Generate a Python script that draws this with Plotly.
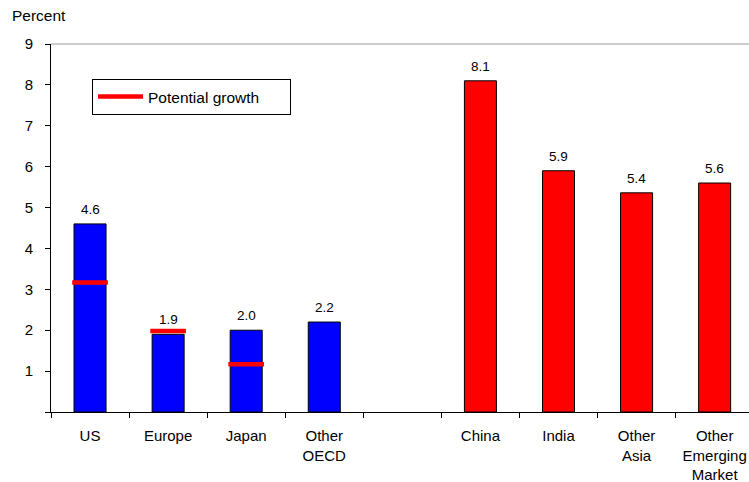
import plotly.graph_objects as go

categories = ["US", "Europe", "Japan", "Other<br>OECD", " ", "China", "India", "Other<br>Asia", "Other<br>Emerging<br>Market"]
growth = [4.6, 1.9, 2.0, 2.2, None, 8.1, 5.9, 5.36, 5.6]
growth_labels = ["4.6", "1.9", "2.0", "2.2", "", "8.1", "5.9", "5.4", "5.6"]
bar_colors = ["#0000FF", "#0000FF", "#0000FF", "#0000FF", "#0000FF", "#FF0000", "#FF0000", "#FF0000", "#FF0000"]
potential_cats = ["US", "Europe", "Japan"]
potential_vals = [3.17, 1.98, 1.17]
y_ticks = [0, 1, 2, 3, 4, 5, 6, 7, 8, 9]
y_ticktext = ["", "1", "2", "3", "4", "5", "6", "7", "8", "9"]

FONT = "Liberation Sans, Arial, sans-serif"

fig = go.Figure()
fig.add_trace(go.Bar(
    x=categories, y=growth,
    marker=dict(color=bar_colors, line=dict(color="#000000", width=1)),
    showlegend=False, hoverinfo="skip",
))
fig.add_trace(go.Scatter(
    x=potential_cats, y=potential_vals, mode="markers",
    marker=dict(symbol="line-ew", size=25.5, color="#FF0000",
                line=dict(color="#FF0000", width=4.5)),
    showlegend=False, hoverinfo="skip",
))
fig.add_trace(go.Scatter(
    x=[None], y=[None], mode="lines",
    name="Potential growth" + "\u00a0" * 6,
    line=dict(color="#FF0000", width=4.5),
))

for c, v, t in zip(categories, growth, growth_labels):
    if v is None:
        continue
    fig.add_annotation(x=c, y=v, text=t, showarrow=False, yanchor="bottom",
                       yshift=5, font=dict(family=FONT, size=13.5, color="#000"))

fig.add_annotation(xref="paper", yref="paper", x=(10 - 51) / 698, y=(412 - 15) / 368,
                   xanchor="left", yanchor="middle", text="Percent", showarrow=False,
                   font=dict(family=FONT, size=15.5, color="#000"))

fig.add_shape(type="line", xref="paper", yref="paper", x0=0, x1=1, y0=1, y1=1,
              line=dict(color="#999999", width=1))

fig.update_layout(
    width=749, height=482,
    margin=dict(l=51, r=0, t=44, b=70),
    plot_bgcolor="white", paper_bgcolor="white",
    bargap=0.59,
    font=dict(family=FONT, size=15, color="#000"),
    showlegend=True,
    legend=dict(x=(92 - 51) / 698, y=(412 - 79) / 368, xanchor="left", yanchor="top",
                bordercolor="#000", borderwidth=1, bgcolor="white",
                font=dict(family=FONT, size=15.5, color="#000"),
                itemwidth=45),
    xaxis=dict(type="category", categoryorder="array", categoryarray=categories,
               range=[-0.5, 8.44], showline=True, linecolor="#000", linewidth=1,
               ticks="outside", ticklen=5, tickcolor="#000", tickson="boundaries",
               ticklabelstandoff=10,
               showgrid=False, zeroline=False, fixedrange=True),
    yaxis=dict(range=[0, 9], tickvals=y_ticks, ticktext=y_ticktext,
               showline=True, linecolor="#000", linewidth=1,
               ticks="outside", ticklen=5, tickcolor="#000",
               ticklabelstandoff=9,
               showgrid=False, zeroline=False, fixedrange=True),
)

fig.write_html("out.html", config={"displayModeBar": False},
               post_script="document.body.style.margin='0';")
